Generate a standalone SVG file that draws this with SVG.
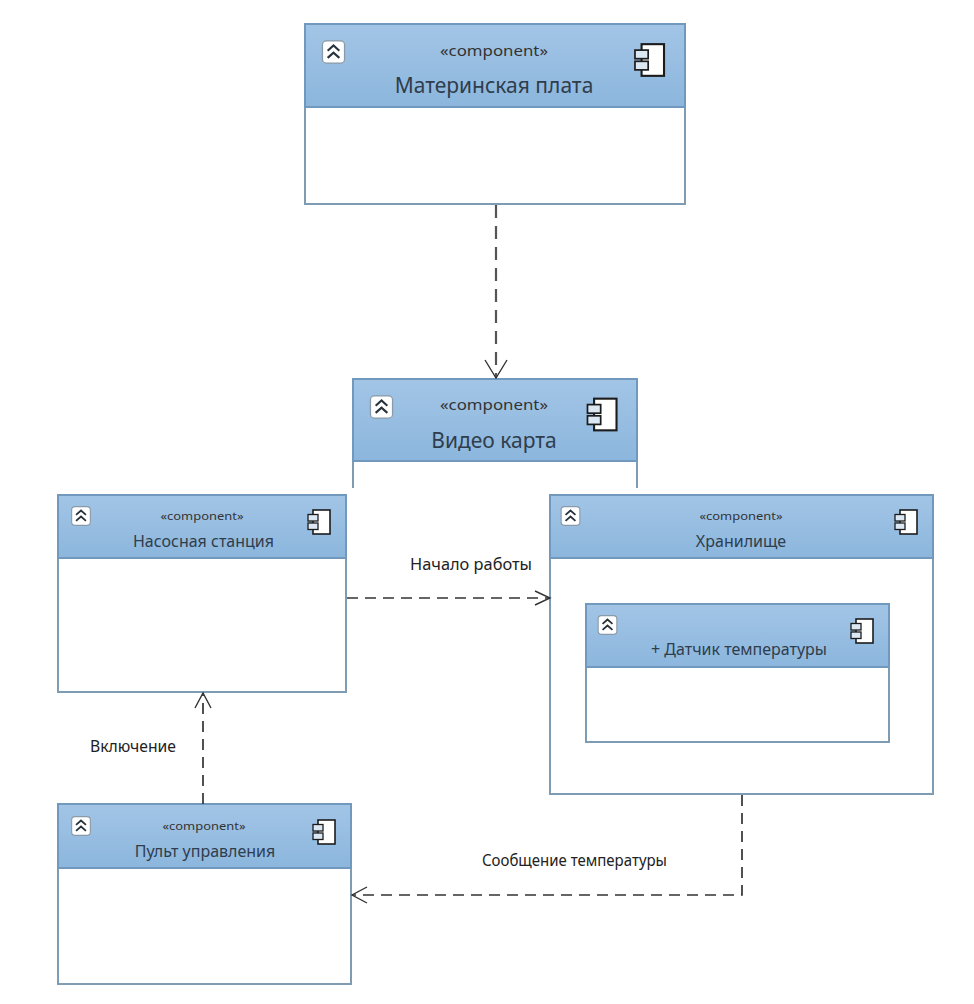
<svg xmlns="http://www.w3.org/2000/svg" width="974" height="1004" viewBox="0 0 974 1004">
<style>
text{font-family:"Noto Sans","Open Sans","Liberation Sans",sans-serif;text-anchor:middle}
.body{fill:#fff;stroke:#7f9cb5;stroke-width:2}
.head{fill:url(#hg);stroke:#7198bd;stroke-width:2}
.st{fill:#333;font-size:14px}
.st2{fill:#333;font-size:11.5px}
.big{fill:#2f3d4c;font-size:21px}
.nm{fill:#2f3d4c;font-size:16px}
.lb{fill:#222;font-size:15.5px}
.conn{fill:none;stroke:#333;stroke-width:1.7;stroke-dasharray:11 7}
.main{stroke:#555;stroke-width:2.2;stroke-dasharray:13 8}
.tip{fill:none;stroke:#333;stroke-width:1.4}
</style>
<defs>
<linearGradient id="hg" x1="0" y1="0" x2="0" y2="1"><stop offset="0" stop-color="#a2c5e6"/><stop offset="1" stop-color="#8cb6dd"/></linearGradient>
<g id="col"><rect x="-8.500" y="-8.500" width="17" height="17" rx="3" fill="#fff" stroke="#8a9aa8" stroke-width="1"/><path d="M-4.500 -1L0 -5L4.500 -1M-4.500 4.500L0 0.500L4.500 4.500" fill="none" stroke="#26323c" stroke-width="1.600"/></g>
<g id="ico"><rect x="-6" y="-12" width="17" height="24" fill="#fff" stroke="#1c1c1c" stroke-width="1.600"/><rect x="-11" y="-7.500" width="10" height="6.500" fill="#dbe7f2" stroke="#1c1c1c" stroke-width="1.300"/><rect x="-11" y="1" width="10" height="6.500" fill="#dbe7f2" stroke="#1c1c1c" stroke-width="1.300"/></g>
</defs>
<g id="n-main">
<rect class="body" x="305" y="24" width="380" height="180"/><rect class="head" x="305" y="24" width="380" height="83"/>
<use href="#col" transform="translate(333.500 52) scale(1.3)"/><use href="#ico" transform="translate(649.500 60) scale(1.32)"/>
<text class="st" x="494" y="56" textLength="108" lengthAdjust="spacingAndGlyphs">«component»</text><text class="big" x="494" y="93">Материнская плата</text>
</g>
<g id="n-video">
<path class="body" d="M353 488V461H637V488"/><rect class="head" x="353" y="379" width="284" height="82"/>
<use href="#col" transform="translate(381.500 407) scale(1.3)"/><use href="#ico" transform="translate(602 414.500) scale(1.32)"/>
<text class="st" x="494" y="410" textLength="108" lengthAdjust="spacingAndGlyphs">«component»</text><text class="big" x="494" y="448">Видео карта</text>
</g>
<g id="n-pump">
<rect class="body" x="58" y="495" width="288" height="197"/><rect class="head" x="58" y="495" width="288" height="63"/>
<use href="#col" transform="translate(81 516) scale(1.1)"/><use href="#ico" transform="translate(319 522)"/>
<text class="st2" x="202" y="520" textLength="83" lengthAdjust="spacingAndGlyphs">«component»</text><text class="nm" x="203.500" y="547">Насосная станция</text>
</g>
<g id="n-storage">
<rect class="body" x="550" y="495" width="383" height="299"/><rect class="head" x="550" y="495" width="383" height="63"/>
<use href="#col" transform="translate(570.500 516) scale(1.1)"/><use href="#ico" transform="translate(906 522)"/>
<text class="st2" x="741" y="520" textLength="83" lengthAdjust="spacingAndGlyphs">«component»</text><text class="nm" x="741" y="547">Хранилище</text>
</g>
<g id="n-sensor">
<rect class="body" x="586" y="604" width="303" height="138"/><rect class="head" x="586" y="604" width="303" height="63"/>
<use href="#col" transform="translate(607.500 625) scale(1.1)"/><use href="#ico" transform="translate(862 631)"/>
<text class="nm" x="739" y="655">+ Датчик температуры</text>
</g>
<g id="n-remote">
<rect class="body" x="58" y="804" width="293" height="180"/><rect class="head" x="58" y="804" width="293" height="64"/>
<use href="#col" transform="translate(81 826) scale(1.1)"/><use href="#ico" transform="translate(324 832)"/>
<text class="st2" x="204" y="830" textLength="83" lengthAdjust="spacingAndGlyphs">«component»</text><text class="nm" x="205" y="857">Пульт управления</text>
</g>
<g id="connectors">
<path class="conn main" d="M496 205V378"/><path class="tip" d="M485 360L496 378L507 360"/>
<path class="conn" d="M347 598H549"/><path class="tip" d="M535 591L550 598L535 605"/>
<path class="conn" d="M203 804V693"/><path class="tip" d="M195 708L203 693L211 708"/>
<path class="conn" d="M742 795V895H352"/><path class="tip" d="M367 887L352 895L367 903"/>
</g>
<g id="labels">
<text class="lb" x="471" y="570" textLength="122" lengthAdjust="spacingAndGlyphs">Начало работы</text>
<text class="lb" x="133" y="752" textLength="86" lengthAdjust="spacingAndGlyphs">Включение</text>
<text class="lb" x="574.500" y="866" textLength="185" lengthAdjust="spacingAndGlyphs">Сообщение температуры</text>
</g>
</svg>
